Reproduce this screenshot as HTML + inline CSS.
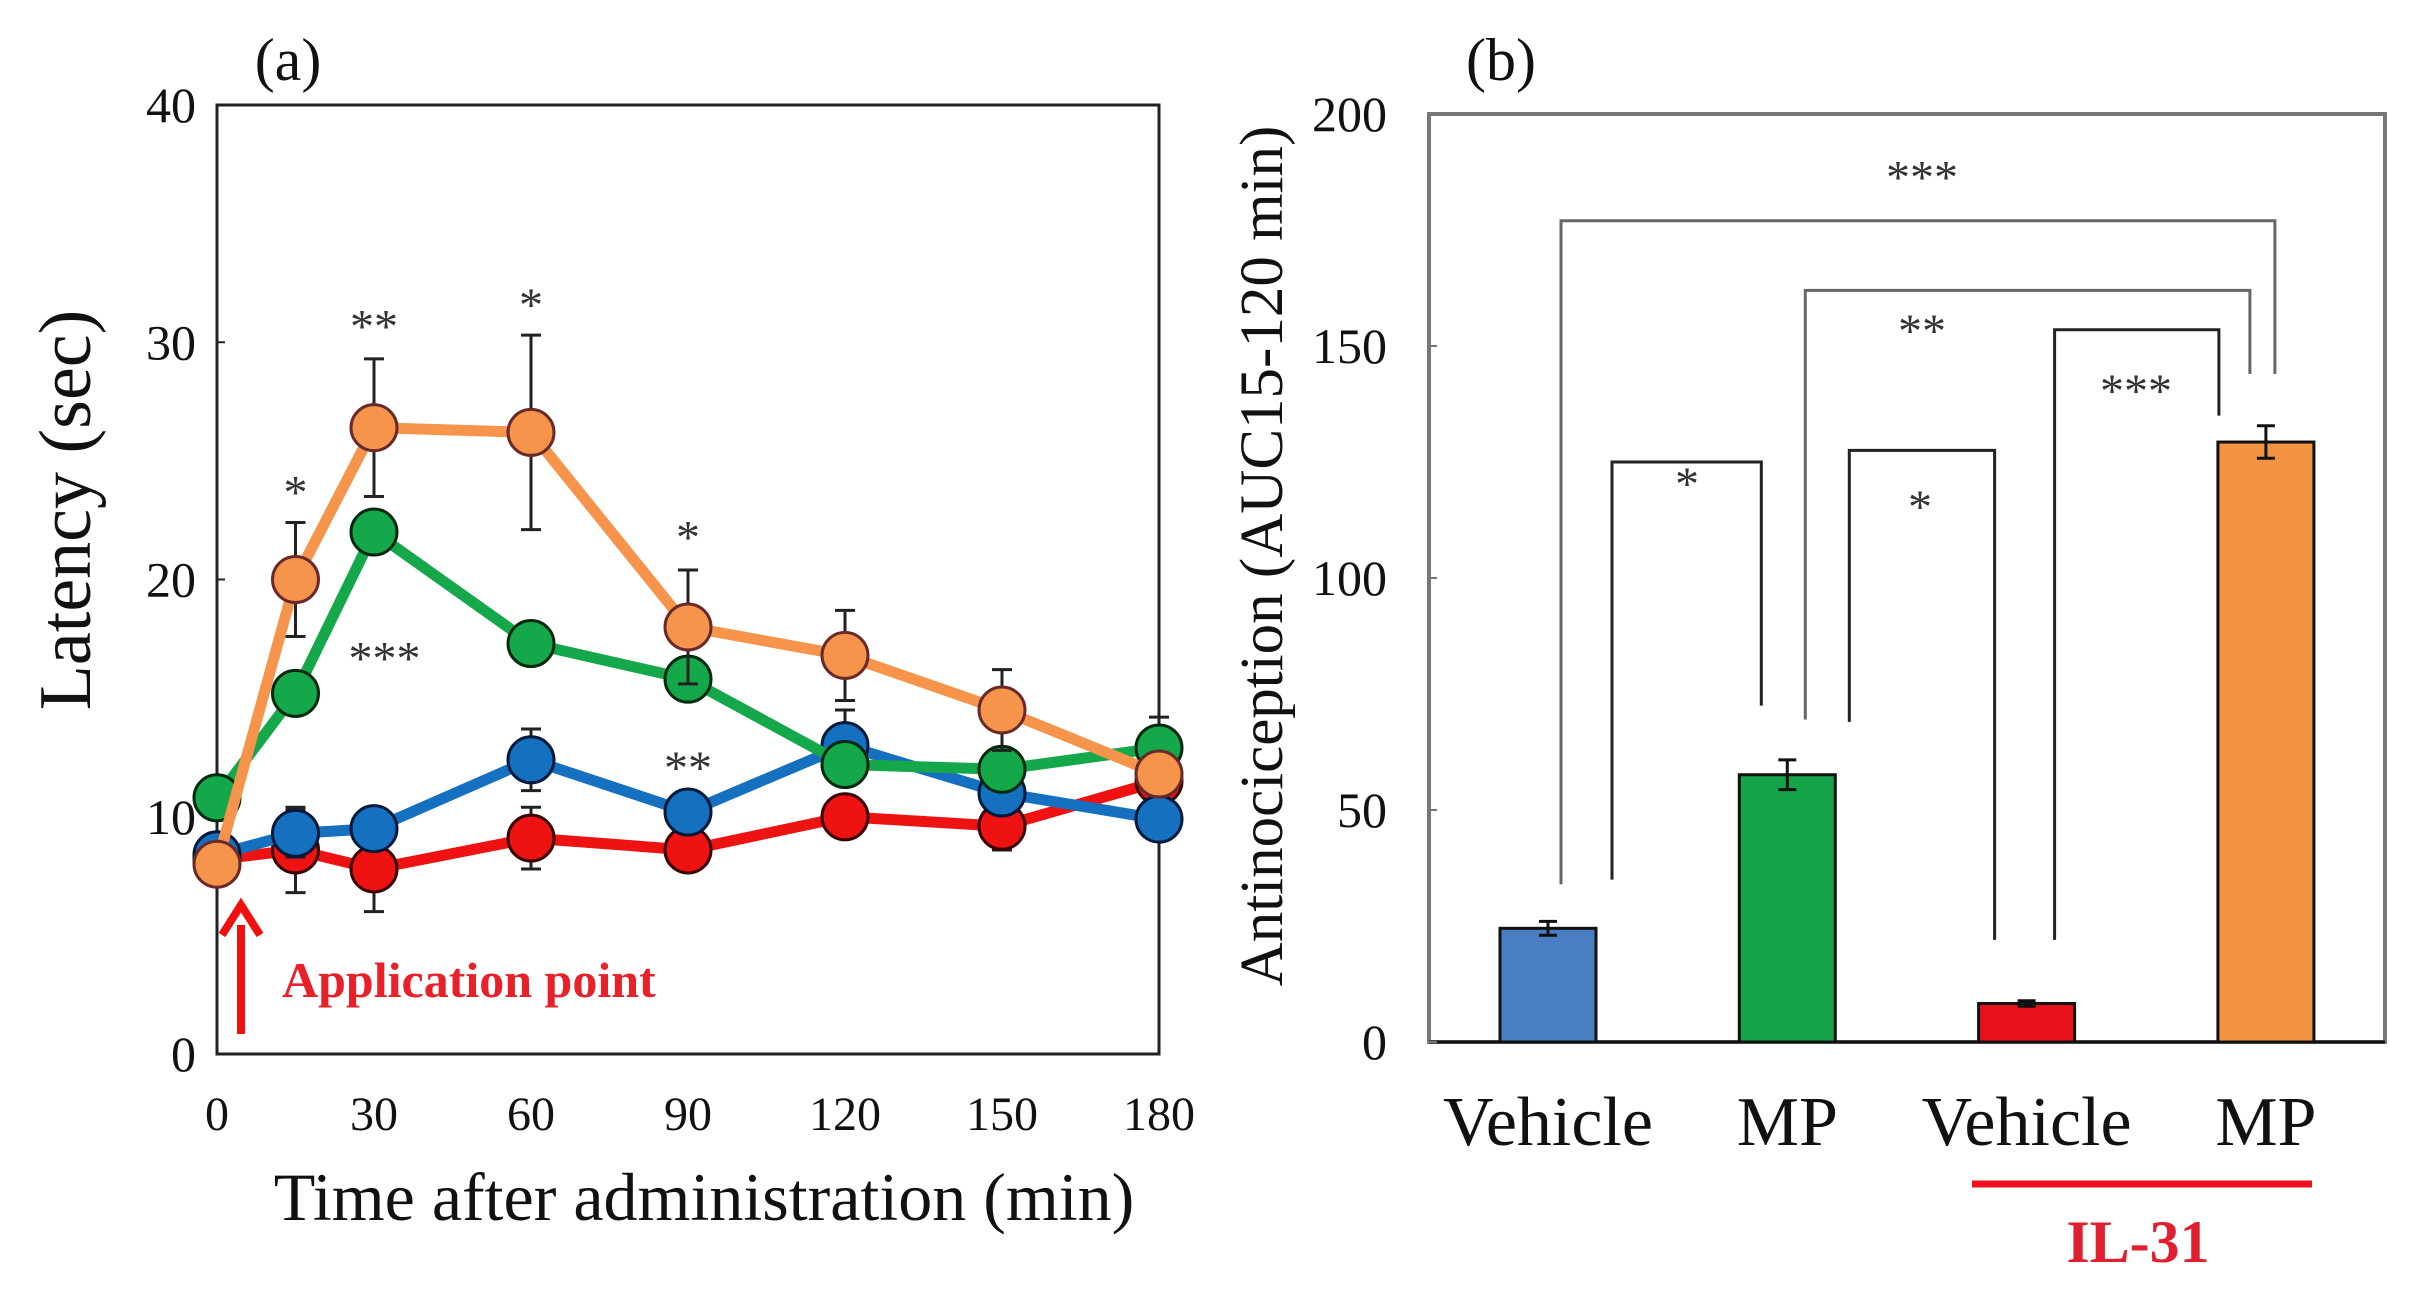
<!DOCTYPE html>
<html><head><meta charset="utf-8"><style>
body{margin:0;background:#fff;}
svg{display:block;font-family:"Liberation Serif",serif;}
</style></head><body>
<svg id="fig" width="2411" height="1297" viewBox="0 0 2411 1297" xmlns="http://www.w3.org/2000/svg"></svg>
<script>
// ---- Panel (a) data ----
const times = [0, 15, 30, 60, 90, 120, 150, 180];
const xTicks = [0, 30, 60, 90, 120, 150, 180];
const yTicksA = [0, 10, 20, 30, 40];
const orangeVals = [8.0, 20.0, 26.4, 26.2, 18.0, 16.8, 14.5, 11.8];
const orangeErr = [0.3, 2.4, 2.9, 4.1, 2.4, 1.9, 1.7, 0.5];
const greenVals = [10.8, 15.2, 22.0, 17.3, 15.8, 12.2, 12.0, 12.9];
const greenErr = [0.3, 0.5, 0.5, 0.4, 0.8, 0.6, 0.6, 1.3];
const blueVals = [8.4, 9.3, 9.5, 12.4, 10.2, 13.0, 11.0, 9.9];
const blueErr = [0.3, 1.0, 0.5, 1.3, 0.5, 1.5, 0.8, 0.5];
const redVals = [8.2, 8.6, 7.8, 9.1, 8.6, 10.0, 9.6, 11.5];
const redErr = [0.3, 1.8, 1.8, 1.3, 0.4, 0.5, 1.0, 0.5];
const starTimes = [15, 30, 60, 90, 32, 90];
const starVals = [24.0, 31.0, 31.9, 22.1, 17.0, 12.4];
const starLabels = ["*", "**", "*", "*", "***", "**"];
// ---- Panel (b) data ----
const groups = ["Vehicle", "MP", "Vehicle", "MP"];
const barVals = [24.5, 57.6, 8.3, 129.3];
const barErr = [1.5, 3.2, 0.6, 3.5];
const yTicksB = [0, 50, 100, 150, 200];
const brLeftIdx = [0, 1, 2, 0, 1];
const brRightIdx = [3, 3, 3, 1, 2];
const brTop = [177, 162, 153.5, 125, 127.5];
const brLeftBottom = [34, 69.5, 22, 35, 69];
const brRightBottom = [144, 144, 135, 72.5, 22];
const brLabels = ["***", "**", "***", "*", "*"];
const brLabelVals = [188, 155, 142, 122, 117];
const brLabelX = [1922, 1922, 2136, 1687, 1920];

const NS = "http://www.w3.org/2000/svg";
const svg = document.getElementById('fig');
function el(tag, attrs, parent, text){
  const e = document.createElementNS(NS, tag);
  for (const k in attrs) e.setAttribute(k, attrs[k]);
  if (text !== undefined) e.textContent = text;
  (parent || svg).appendChild(e);
  return e;
}
// Panel a scales
const ax0 = 217, ax1 = 1159, ay0 = 1054, ay1 = 105;
const xA = t => ax0 + (t / 180) * (ax1 - ax0);
const yA = v => ay0 - (v / 40) * (ay0 - ay1);

const gA = el('g', {});


const frameA = el('rect', {x: ax0, y: ay1, width: ax1 - ax0, height: ay0 - ay1, fill: 'none', stroke: '#222', 'stroke-width': 3}, gA);


yTicksA.forEach(v => {
  const t = el('text', {x: 196, y: yA(v) + 17, 'font-size': 50, 'text-anchor': 'end', fill: '#111'}, gA, String(v));
  
  
  el('line', {x1: ax0, x2: ax0 + 8, y1: yA(v), y2: yA(v), stroke: '#222', 'stroke-width': 2}, gA);
});
xTicks.forEach(v => {
  const t = el('text', {x: xA(v), y: 1130, 'font-size': 48, 'text-anchor': 'middle', fill: '#111'}, gA, String(v));
  
  
});
let t;
t = el('text', {x: 704, y: 1220, 'font-size': 68, 'text-anchor': 'middle', fill: '#111'}, gA, 'Time after administration (min)');


t = el('text', {x: 0, y: 0, 'font-size': 74, 'text-anchor': 'middle', fill: '#111', transform: 'translate(90,510) rotate(-90)'}, gA, 'Latency (sec)');


t = el('text', {x: 288, y: 80, 'font-size': 60, 'text-anchor': 'middle', fill: '#111'}, gA, '(a)');



const series = [
  {name: 'red', vals: redVals, err: redErr, color: '#EE1212', stroke: '#3a0000'},
  {name: 'blue', vals: blueVals, err: blueErr, color: '#1670C0', stroke: '#001a3a'},
  {name: 'green', vals: greenVals, err: greenErr, color: '#15A84A', stroke: '#002a10'},
  {name: 'orange', vals: orangeVals, err: orangeErr, color: '#F5944A', stroke: '#6a2a2a'}
];
series.forEach(s => {
  const g = el('g', {}, gA);
  
  
  s.vals.forEach((v, i) => {
    const x = xA(times[i]);
    const e = el('path', {d: `M${x},${yA(v + s.err[i])}V${yA(v - s.err[i])}M${x - 10},${yA(v + s.err[i])}h20M${x - 10},${yA(v - s.err[i])}h20`, stroke: '#222', 'stroke-width': 3, fill: 'none'}, g);
    
    
  });
  const pts = s.vals.map((v, i) => xA(times[i]) + ',' + yA(v)).join(' ');
  const pl = el('polyline', {points: pts, fill: 'none', stroke: s.color, 'stroke-width': 11, 'stroke-linejoin': 'round'}, g);
  
  
  s.vals.forEach((v, i) => {
    const c = el('circle', {cx: xA(times[i]), cy: yA(v), r: 23, fill: s.color, stroke: s.stroke, 'stroke-width': 3}, g);
    
    
  });
});
starLabels.forEach((s, i) => {
  const e = el('text', {x: xA(starTimes[i]), y: yA(starVals[i]) + 24, 'font-size': 48, 'text-anchor': 'middle', fill: '#333'}, gA, s);
  
  
});
const arrow = el('path', {d: 'M241,1034V925M222,935L241,905L260,935', stroke: '#F01010', 'stroke-width': 8, fill: 'none'}, gA);


t = el('text', {x: 282, y: 997, 'font-size': 50, 'font-weight': 'bold', fill: '#E8202A'}, gA, 'Application point');



// Panel b scales
const bx0 = 1429, bx1 = 2385, by0 = 1042, by1 = 114;
const barCenters0 = 1548, barStep = 239.3;
const xB = i => barCenters0 + i * barStep;
const yB = v => by0 - (v / 200) * (by0 - by1);
const gB = el('g', {});


const frameB = el('path', {d: `M${bx0},${by1}H${bx1}V${by0}H${bx0}Z`, fill: 'none', stroke: '#777', 'stroke-width': 4}, gB);


el('line', {x1: bx0, x2: bx1, y1: by0, y2: by0, stroke: '#111', 'stroke-width': 3}, gB);
yTicksB.forEach(v => {
  const e = el('text', {x: 1387, y: yB(v) + 17, 'font-size': 50, 'text-anchor': 'end', fill: '#111'}, gB, String(v));
  
  
  el('line', {x1: bx0, x2: bx0 + 8, y1: yB(v), y2: yB(v), stroke: '#777', 'stroke-width': 2}, gB);
});
const barColors = ['#4A7EC2', '#16A44A', '#E8111B', '#F29441'];
barVals.forEach((v, i) => {
  const r = el('rect', {x: xB(i) - 48, y: yB(v), width: 96, height: by0 - yB(v), fill: barColors[i], stroke: '#111', 'stroke-width': 3}, gB);
  
  
  const x = xB(i);
  const e = el('path', {d: `M${x},${yB(v + barErr[i])}V${yB(v - barErr[i])}M${x - 9},${yB(v + barErr[i])}h18M${x - 9},${yB(v - barErr[i])}h18`, stroke: '#111', 'stroke-width': 3, fill: 'none'}, gB);
  
  
  const l = el('text', {x: x, y: 1145, 'font-size': 70, 'text-anchor': 'middle', fill: '#111'}, gB, groups[i]);
  
  
});
brLabels.forEach((s, i) => {
  const xl = xB(brLeftIdx[i]) + (i === 0 ? 13 : i === 1 ? 18 : i === 2 ? 28 : i === 3 ? 64 : 62);
  const xr = xB(brRightIdx[i]) + (i === 0 ? 9 : i === 1 ? -16 : i === 2 ? -47 : i === 3 ? -26 : -32);
  const col = i < 2 ? '#666' : '#222';
  const p = el('path', {d: `M${xl},${yB(brLeftBottom[i])}V${yB(brTop[i])}H${xr}V${yB(brRightBottom[i])}`, fill: 'none', stroke: col, 'stroke-width': 3}, gB);
  
  
  const e = el('text', {x: brLabelX[i], y: yB(brLabelVals[i]) + 24, 'font-size': 48, 'text-anchor': 'middle', fill: '#333'}, gB, s);
  
  
});
t = el('text', {x: 0, y: 0, 'font-size': 61, 'text-anchor': 'middle', fill: '#111', transform: 'translate(1282,556) rotate(-90)'}, gB, 'Antinociception (AUC15-120  min)');


t = el('text', {x: 1501, y: 80, 'font-size': 60, 'text-anchor': 'middle', fill: '#111'}, gB, '(b)');


const il = el('line', {x1: 1972, x2: 2312, y1: 1184, y2: 1184, stroke: '#F01020', 'stroke-width': 7}, gB);


t = el('text', {x: 2138, y: 1262, 'font-size': 60, 'font-weight': 'bold', 'text-anchor': 'middle', fill: '#E02030'}, gB, 'IL-31');


</script>
</body></html>
